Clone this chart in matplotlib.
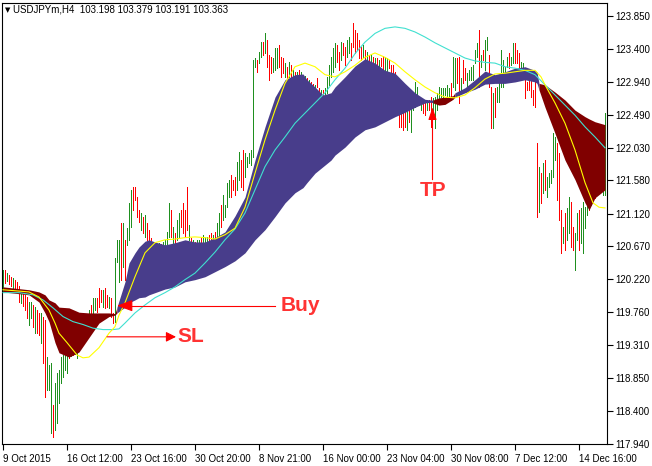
import matplotlib
matplotlib.use("Agg")
import matplotlib.pyplot as plt

plt.rcParams['font.family'] = ['Liberation Sans', 'DejaVu Sans']

# USDJPYm H4 bars, bar 0 = 9 Oct 2015 00:00
highs = [
    120.34, 120.34, 120.30, 120.28, 120.25, 120.23, 120.21, 120.18, 120.12, 120.07,
    120.04, 120.00, 119.97, 119.90, 119.90, 119.86, 119.83, 119.79, 119.75, 119.75,
    119.70, 119.65, 119.14, 119.03, 119.06, 118.48, 118.78, 118.92, 118.96, 119.14,
    119.17, 119.21, 119.24, 119.31, 119.35, 119.38, 119.41, 119.31, 119.45, 119.52,
    119.59, 119.65, 119.72, 119.79, 119.86, 119.96, 119.96, 119.96, 120.10, 120.07,
    120.07, 120.10, 120.00, 119.97, 119.96, 119.75, 120.51, 120.76, 120.76, 120.99,
    120.99, 120.76, 120.92, 121.27, 121.45, 121.49, 121.49, 121.35, 121.17, 121.13,
    121.08, 121.10, 120.99, 120.90, 120.79, 120.73, 120.69, 120.69, 120.72, 120.70,
    120.73, 120.76, 120.87, 121.27, 121.17, 120.94, 120.85, 121.03, 121.13, 121.17,
    121.27, 121.17, 121.49, 120.97, 120.79, 120.76, 120.73, 120.76, 120.76, 120.79,
    120.83, 120.80, 120.80, 120.83, 120.85, 120.83, 120.87, 120.99, 121.13, 121.24,
    121.38, 121.24, 121.55, 121.59, 121.66, 121.59, 121.63, 121.83, 121.97, 121.86,
    122.00, 121.96, 121.90, 121.96, 122.00, 123.24, 123.27, 123.24, 123.35, 123.49,
    123.49, 123.61, 123.52, 123.31, 123.28, 123.27, 123.41, 123.41, 123.45, 123.28,
    123.27, 123.20, 123.15, 123.21, 123.17, 123.10, 123.08, 123.08, 123.10, 123.08,
    123.04, 123.02, 123.00, 122.97, 122.94, 122.91, 122.90, 123.00, 122.86, 122.83,
    122.83, 122.86, 123.01, 123.17, 123.28, 123.41, 123.48, 123.45, 123.35, 123.49,
    123.48, 123.42, 123.52, 123.56, 123.48, 123.75, 123.66, 123.61, 123.52, 123.42,
    123.45, 123.38, 123.35, 123.31, 123.31, 123.28, 123.27, 123.27, 123.24, 123.27,
    123.30, 123.28, 123.27, 123.24, 123.17, 123.17, 123.08, 122.90, 122.59, 122.65,
    122.55, 122.83, 122.69, 122.65, 122.65, 122.66, 122.94, 122.87, 122.69, 122.65,
    122.65, 122.66, 122.69, 122.69, 122.73, 122.72, 122.73, 122.79, 122.87, 122.86,
    122.86, 122.86, 122.90, 122.86, 122.92, 123.28, 123.27, 123.27, 123.28, 123.00,
    123.24, 123.13, 123.06, 123.10, 123.15, 123.17, 123.38, 123.48, 123.66, 123.31,
    123.38, 123.52, 123.56, 123.31, 122.87, 122.79, 122.86, 122.87, 122.94, 123.38,
    123.24, 123.15, 123.28, 123.34, 123.28, 123.48, 123.48, 123.38, 123.34, 123.21,
    123.20, 122.97, 122.94, 122.97, 122.97, 122.83, 122.97, 122.10, 121.77, 121.68,
    121.82, 121.86, 121.63, 121.68, 121.72, 122.23, 122.18, 122.10, 121.96, 121.17,
    120.94, 121.13, 121.20, 121.35, 121.28, 120.94, 120.85, 121.13, 121.17, 121.20,
    121.28, 121.21, 121.38, 121.45, 121.52, 121.59, 121.66, 121.72, 121.79, 121.86,
    121.96, 122.51,
]
lows = [
    120.04, 120.16, 120.19, 120.15, 120.12, 120.10, 120.08, 120.05, 119.90, 119.89,
    119.85, 119.79, 119.68, 119.59, 119.68, 119.56, 119.47, 119.47, 119.45, 119.34,
    119.06, 118.59, 118.69, 118.69, 118.09, 118.04, 118.14, 118.23, 118.51, 118.78,
    118.87, 118.96, 118.92, 119.13, 119.16, 119.17, 119.18, 119.13, 119.24, 119.27,
    119.31, 119.38, 119.45, 119.52, 119.63, 119.75, 119.79, 119.76, 119.83, 119.90,
    119.83, 119.82, 119.83, 119.82, 119.70, 119.61, 119.63, 120.45, 120.18, 120.21,
    120.39, 120.21, 120.69, 120.76, 120.94, 121.17, 121.31, 121.08, 121.01, 120.90,
    120.85, 120.80, 120.76, 120.72, 120.55, 120.51, 120.45, 120.41, 120.45, 120.48,
    120.51, 120.55, 120.62, 120.80, 120.80, 120.66, 120.66, 120.76, 120.80, 120.94,
    120.85, 120.80, 120.90, 120.76, 120.55, 120.51, 120.48, 120.51, 120.55, 120.59,
    120.69, 120.62, 120.72, 120.66, 120.62, 120.65, 120.72, 120.76, 120.80, 120.94,
    121.03, 121.08, 121.21, 121.35, 121.35, 121.45, 121.38, 121.45, 121.59, 121.49,
    121.45, 121.63, 121.77, 121.82, 121.79, 121.90, 123.15, 123.08, 123.20, 123.28,
    123.31, 123.34, 123.15, 122.97, 123.06, 123.08, 123.10, 123.13, 123.15, 123.01,
    123.06, 123.01, 123.00, 123.01, 123.00, 122.97, 122.94, 122.97, 122.97, 123.00,
    122.90, 122.86, 122.83, 122.80, 122.76, 122.75, 122.73, 122.87, 122.69, 122.66,
    122.69, 122.72, 122.79, 122.90, 123.01, 123.08, 123.15, 123.21, 123.10, 123.24,
    123.31, 123.17, 123.28, 123.34, 123.24, 123.42, 123.34, 123.38, 123.27, 123.24,
    123.28, 123.21, 123.20, 123.17, 123.16, 123.13, 123.13, 123.10, 123.08, 123.16,
    123.10, 123.08, 123.08, 123.13, 123.06, 123.06, 122.83, 122.62, 122.32, 122.32,
    122.28, 122.32, 122.28, 122.39, 122.25, 122.55, 122.59, 122.69, 122.62, 122.55,
    122.51, 122.48, 122.55, 122.55, 122.32, 122.44, 122.30, 122.55, 122.69, 122.73,
    122.69, 122.76, 122.73, 122.73, 122.69, 122.87, 122.83, 122.92, 122.65, 122.83,
    122.92, 122.97, 122.87, 122.97, 122.97, 122.97, 123.20, 123.28, 122.87, 123.15,
    123.24, 123.10, 123.38, 122.87, 122.30, 122.30, 122.46, 122.66, 122.66, 122.87,
    122.87, 122.97, 123.15, 123.13, 123.17, 123.20, 123.20, 123.20, 123.13, 123.10,
    123.15, 122.72, 122.83, 122.83, 122.73, 122.62, 122.59, 121.08, 121.14, 121.27,
    121.41, 121.45, 121.35, 121.49, 121.55, 121.63, 121.86, 121.31, 121.03, 120.58,
    120.72, 120.62, 120.76, 120.85, 120.66, 120.62, 120.34, 120.76, 120.62, 120.72,
    120.58, 120.92, 121.10, 121.17, 121.24, 121.31, 121.34, 121.38, 121.41, 121.45,
    121.38, 121.38,
]
# G = bull bar, R = bear bar
bar_dirs = (
    "GRGRRGRRRG" "RRRGGRGRRG" "RRGGGRGGGG" "GGGRGRGGRG" "GRGGRGGRRR"
    "GRRGRRGGGR" "GRGGGRRRRG" "RGRRRGRGGR" "GGGGRGRGGR" "RRRGRGRGGR"
    "GGGRRGRGGR" "GGGGRRRGGR" "RGGGGGGRGG" "RGRRRGGGRR" "RGRGRGRGRG"
    "RGRGRRGRRG" "RGGGGGGRRG" "RRGGRRRRRR" "GRGRGRGRGR" "RGGRRRRRRR"
    "RRGRGGGGRG" "RRGRRGGGGG" "GGGGRGGRRG" "RRGGGGGGRG" "RGGRRGRGGG"
    "GGGRGGRRRG" "GRRRRRRRGR" "GRGGGGGRRR" "GRGGRRGGRG" "GGGRGGRGGG"
    "GG"
)

time_ticks = [0, 32, 64, 96, 128, 160, 192, 224, 256, 288]
time_labels = ["9 Oct 2015", "16 Oct 12:00", "23 Oct 16:00", "30 Oct 20:00",
               "8 Nov 21:00", "16 Nov 00:00", "23 Nov 04:00", "30 Nov 08:00",
               "7 Dec 12:00", "14 Dec 16:00"]
price_ticks = [123.850, 123.400, 122.940, 122.490, 122.030, 121.580, 121.120,
               120.670, 120.220, 119.760, 119.310, 118.850, 118.400, 117.940]

# yellow (fast) average
fast_idx = [0, 13, 18, 23, 26, 28, 32, 37, 40, 43, 48, 53, 56, 58, 61, 66, 71, 76,
            81, 86, 91, 96, 101, 106, 111, 116, 121, 126, 131, 136, 141, 146, 151,
            156, 161, 166, 171, 176, 181, 186, 191, 196, 201, 206, 211, 216, 221,
            226, 231, 236, 241, 246, 251, 256, 261, 266, 269, 271, 276, 281, 286,
            291, 295, 298, 301]
fast_val = [120.07, 120.04, 119.97, 119.79, 119.61, 119.47, 119.34, 119.17, 119.13,
            119.14, 119.27, 119.47, 119.56, 119.72, 119.89, 120.25, 120.58, 120.72,
            120.76, 120.77, 120.79, 120.80, 120.79, 120.77, 120.83, 120.92, 121.21,
            121.68, 122.14, 122.55, 122.92, 123.15, 123.20, 123.15, 123.04, 123.01,
            123.08, 123.17, 123.28, 123.34, 123.28, 123.20, 123.08, 122.97, 122.87,
            122.79, 122.73, 122.72, 122.76, 122.86, 122.98, 123.05, 123.06, 123.08,
            123.10, 123.10, 123.01, 122.90, 122.65, 122.37, 122.00, 121.55, 121.27,
            121.21, 121.20]

# turquoise (slow) average
slow_idx = [0, 8, 15, 20, 25, 30, 35, 40, 45, 50, 55, 58, 61, 66, 71, 76, 81, 86,
            91, 96, 101, 106, 111, 116, 121, 126, 131, 136, 141, 146, 151, 156, 161,
            166, 171, 176, 181, 186, 191, 196, 201, 206, 211, 216, 221, 226, 231,
            236, 241, 246, 251, 256, 261, 266, 271, 276, 281, 286, 291, 296, 301]
slow_val = [120.03, 120.03, 120.00, 119.93, 119.82, 119.70, 119.63, 119.59, 119.54,
            119.52, 119.52, 119.53, 119.61, 119.75, 119.86, 119.96, 120.03, 120.11,
            120.21, 120.30, 120.44, 120.59, 120.76, 120.91, 121.13, 121.45, 121.77,
            122.00, 122.18, 122.37, 122.51, 122.65, 122.79, 122.97, 123.13, 123.33,
            123.49, 123.61, 123.68, 123.70, 123.68, 123.63, 123.56, 123.48, 123.41,
            123.34, 123.27, 123.23, 123.21, 123.20, 123.15, 123.13, 123.10, 123.04,
            122.90, 122.76, 122.62, 122.48, 122.32, 122.18, 122.03]

# trend band (d = bearish, u = bullish)
band_idx = [0, 13, 18, 21, 23, 26, 28, 33, 38, 43, 48, 53, 56,
            57, 61, 63, 66, 68, 71, 73, 76, 81, 86, 91, 96, 101, 106, 111, 116, 121,
            126, 131, 136, 141, 146, 150, 152, 156, 160, 164, 166, 171, 176, 181,
            186, 191, 196, 201, 206, 211, 214,
            215, 218, 221, 225,
            226, 231, 236, 241, 246, 251, 256, 261, 266, 267,
            268, 271, 276, 281, 286, 291, 293, 296, 301]
band_hi = [120.11, 120.07, 120.04, 120.00, 119.93, 119.89, 119.83, 119.82, 119.76,
           119.75, 119.75, 119.75, 119.74,
           119.83, 120.18, 120.44, 120.58, 120.66, 120.74, 120.76, 120.73, 120.69,
           120.72, 120.76, 120.73, 120.73, 120.79, 120.87, 121.09, 121.35, 121.86,
           122.32, 122.73, 122.97, 123.04, 123.05, 122.97, 122.87, 122.76, 122.79,
           122.87, 123.01, 123.16, 123.26, 123.20, 123.10, 123.06, 122.92, 122.79,
           122.70, 122.69,
           122.69, 122.72, 122.73, 122.75,
           122.79, 122.86, 122.97, 123.09, 123.04, 123.08, 123.13, 123.15, 123.10,
           123.08,
           122.92, 122.90, 122.80, 122.69, 122.55, 122.46, 122.43, 122.39, 122.35]
band_lo = [120.04, 120.00, 119.90, 119.75, 119.63, 119.34, 119.20, 119.14, 119.21,
           119.41, 119.61, 119.70, 119.72,
           119.75, 119.83, 119.89, 119.93, 119.96, 119.97, 120.00, 120.03, 120.08,
           120.11, 120.18, 120.21, 120.25, 120.32, 120.39, 120.47, 120.58, 120.76,
           120.90, 121.08, 121.27, 121.41, 121.48, 121.55, 121.68, 121.77, 121.86,
           121.93, 122.04, 122.18, 122.28, 122.32, 122.39, 122.46, 122.52, 122.59,
           122.65, 122.66,
           122.65, 122.62, 122.63, 122.70,
           122.73, 122.79, 122.84, 122.91, 122.92, 122.92, 122.94, 122.97, 122.94,
           122.92,
           122.83, 122.59, 122.23, 121.86, 121.59, 121.27, 121.17, 121.34, 121.45]
band_dir = "d" * 13 + "u" * 38 + "d" * 4 + "u" * 10 + "d" * 9

# trade marks
buy_bar, buy_price, buy_line_end = 57, 119.85, 136
sl_start, sl_end, sl_price = 52, 86.5, 119.42
tp_bar, tp_price, tp_line_end = 214.75, 122.59, 121.59

fig = plt.figure(figsize=(6.52, 4.66), dpi=100)
ax = fig.add_axes([2 / 652, 1 - 444 / 466, 605 / 652, 441 / 466])

bar_cols = ['#1f8f1f' if c == 'G' else '#ff0000' for c in bar_dirs]
ax.vlines(range(len(highs)), lows, highs, colors=bar_cols, linewidth=0.6,
          antialiased=False, zorder=1)

band_cols = {'d': '#800000', 'u': '#483d8b'}
start = 0
for k in range(1, len(band_dir) + 1):
    if k == len(band_dir) or band_dir[k] != band_dir[start]:
        end = min(k + 1, len(band_idx))
        ax.fill_between(band_idx[start:end], band_lo[start:end], band_hi[start:end],
                        color=band_cols[band_dir[start]], lw=0, zorder=2)
        start = k

ax.plot(slow_idx, slow_val, color='#40e0d0', lw=0.8, zorder=3)
ax.plot(fast_idx, fast_val, color='#ffff00', lw=0.8, zorder=4)

red = '#ff0000'
txt_red = '#ff3333'
ax.plot([buy_bar + 5, buy_line_end], [buy_price, buy_price], color=red, lw=0.8, zorder=5)
ax.annotate("", xy=(buy_bar, buy_price), xytext=(buy_bar + 6.5, buy_price),
            arrowprops=dict(arrowstyle='-|>,head_length=0.95,head_width=0.35',
                            color=red, lw=0.8, shrinkA=0, shrinkB=0), zorder=6)
ax.text(buy_line_end + 3, buy_price, "Buy", color=txt_red, fontsize=15,
        fontweight='bold', va='center', ha='left', zorder=6)

ax.annotate("", xy=(sl_end, sl_price), xytext=(sl_start, sl_price),
            arrowprops=dict(arrowstyle='-|>,head_length=0.6,head_width=0.3',
                            color=red, lw=0.8, shrinkA=0, shrinkB=0), zorder=6)
ax.text(sl_end + 0.5, sl_price, "SL", color=txt_red, fontsize=15,
        fontweight='bold', va='center', ha='left', zorder=6)

ax.annotate("", xy=(tp_bar, tp_price), xytext=(tp_bar, tp_line_end),
            arrowprops=dict(arrowstyle='-|>,head_length=0.75,head_width=0.25',
                            color=red, lw=0.8, shrinkA=0, shrinkB=0), zorder=6)
ax.text(tp_bar + 0.5, tp_line_end - 0.02, "TP", color=txt_red, fontsize=15,
        fontweight='bold', va='top', ha='center', zorder=6)

ax.set_xlim(-0.5, 302)
ax.set_ylim(117.94, 124.03)

ax.yaxis.tick_right()
ax.set_yticks(price_ticks, labels=[f"{v:.3f}" for v in price_ticks])
ax.set_xticks(time_ticks, labels=time_labels)
for lab in ax.get_xticklabels():
    lab.set_horizontalalignment('left')
ax.tick_params(axis='both', direction='out', length=4, width=0.8, labelsize=7,
               colors='black', pad=2)
ax.tick_params(axis='x', pad=3)
for sp in ax.spines.values():
    sp.set_linewidth(0.8)
    sp.set_color('black')

fig.text(5 / 652, 1 - 10 / 466, "\u25bc", fontsize=5, va='center', ha='left',
         family=['DejaVu Sans'])
fig.text(13 / 652, 1 - 10 / 466, "USDJPYm,H4  103.198 103.379 103.191 103.363",
         fontsize=7, va='center', ha='left')

fig.savefig("out.png", dpi=100)
